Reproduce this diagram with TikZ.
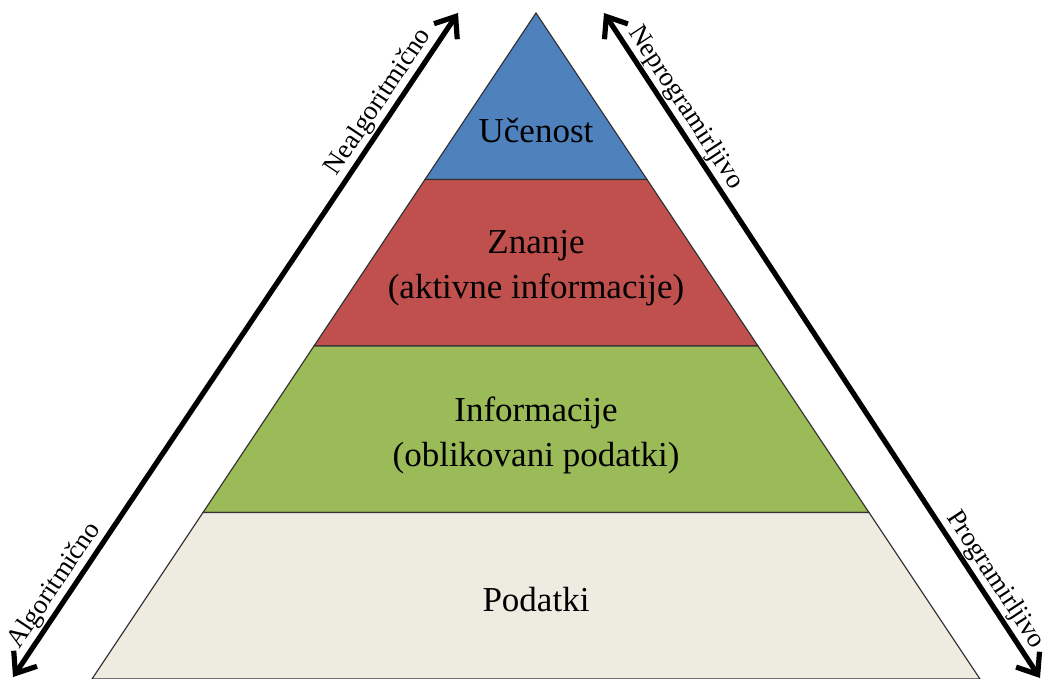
\documentclass[tikz,border=0pt]{standalone}
\usepackage{fontspec}
\setmainfont{Liberation Serif}
\usetikzlibrary{calc,arrows.meta}
\definecolor{pyrblue}{HTML}{4F81BD}
\definecolor{pyrred}{HTML}{C0504D}
\definecolor{pyrgreen}{HTML}{9BBB59}
\definecolor{pyrsand}{HTML}{EEECE1}

\begin{document}
\begin{tikzpicture}[x=0.5pt,y=-0.5pt,
    layer/.style={draw=black!80,line width=0.6pt},
    level/.style={font=\fontsize{17.5}{22.5}\selectfont,align=center},
    axis/.style={line width=2.6pt,{Straight Barb[length=9pt,width=14pt]}-{Straight Barb[length=9pt,width=14pt]}},
    axislabel/.style={font=\fontsize{13.5}{16}\selectfont,sloped,inner sep=0pt,above=0.6pt}]
    \path[use as bounding box] (0,0) rectangle (1044,679);

    \coordinate (top) at (536,13);
    \coordinate (bl) at (92,679);
    \coordinate (br) at (980,679);

    % layers of the pyramid, top down
    \foreach \a/\b/\col in {0/0.25/pyrblue,0.25/0.5/pyrred,0.5/0.75/pyrgreen,0.75/1/pyrsand} {
        \filldraw[layer,fill=\col] ($ (top)!\a!(bl) $) -- ($ (top)!\b!(bl) $)
            -- ($ (top)!\b!(br) $) -- ($ (top)!\a!(br) $) -- cycle;
    }

    \node[level] (ucenost) at (536,130) {Učenost};
    \node[level] (znanje) at (536,268) {Znanje\\(aktivne informacije)};
    \node[level] (informacije) at (536,435) {Informacije\\(oblikovani podatki)};
    \node[level] (podatki) at (536,600) {Podatki};

    % the two axes beside it
    \coordinate (lbot) at (13,677);
    \coordinate (ltop) at (458,13);
    \coordinate (rtop) at (604,13);
    \coordinate (rbot) at (1040,678);

    \draw[axis] (lbot) -- (ltop)
        node[axislabel,pos=0.124] (alg) {Algoritmično}
        node[axislabel,pos=0.852] (nealg) {Nealgoritmično};
    \draw[axis] (rtop) -- (rbot)
        node[axislabel,pos=0.156] (neprog) {Neprogramirljivo}
        node[axislabel,pos=0.866] (prog) {Programirljivo};
\end{tikzpicture}
\end{document}
